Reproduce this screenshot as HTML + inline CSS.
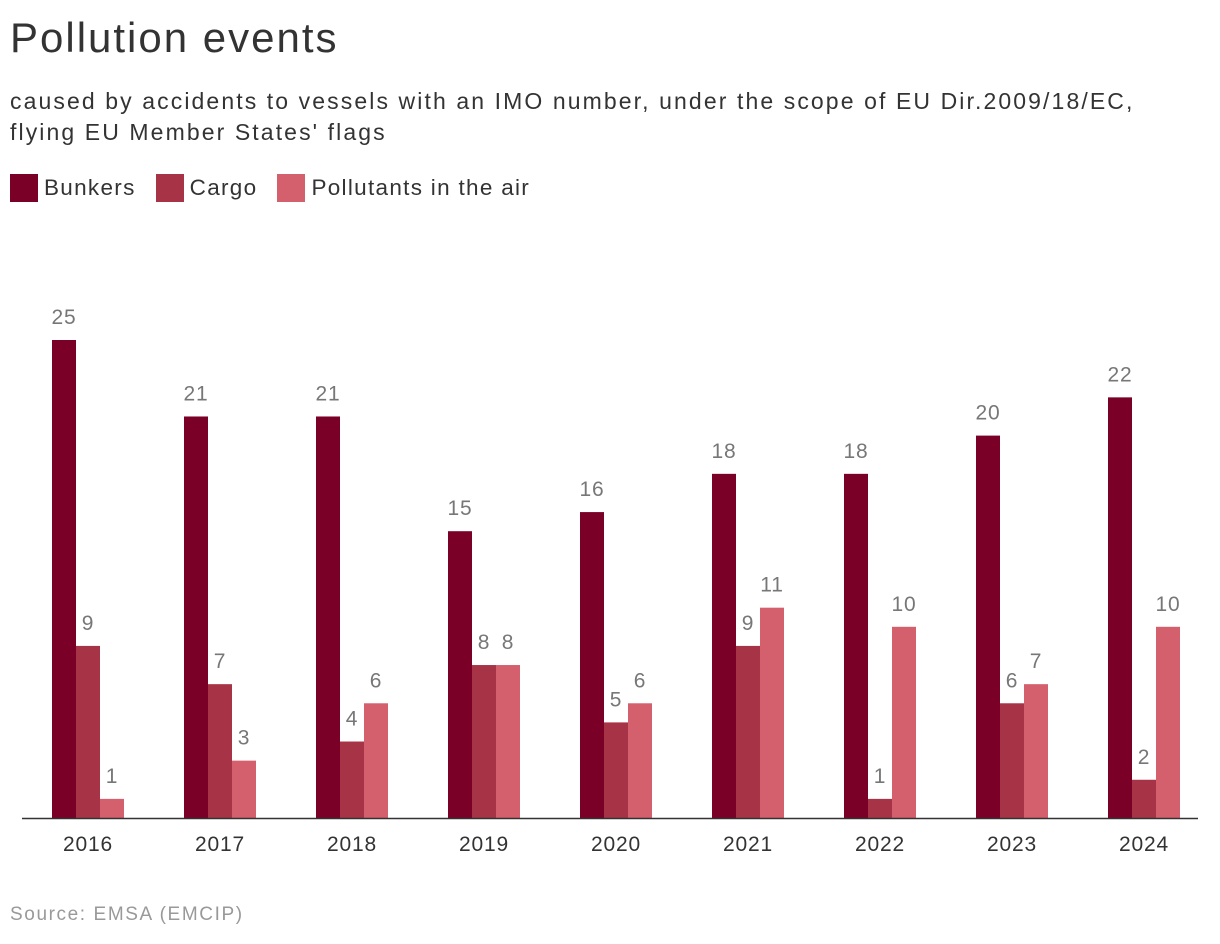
<!DOCTYPE html>
<html><head><meta charset="utf-8"><style>
body{margin:0;width:1220px;height:944px;background:#fff;font-family:"Liberation Sans",sans-serif;color:#333;position:relative;overflow:hidden}
#title{position:absolute;left:10px;top:14px;font-size:42px;letter-spacing:2px;color:#333}
#sub{position:absolute;left:10px;top:86px;font-size:23px;line-height:31px;letter-spacing:2.1px;color:#333;white-space:nowrap}
#legend{position:absolute;left:10px;top:174px;display:flex;font-size:22.5px;letter-spacing:1.3px;color:#333}
.li{display:flex;align-items:center;margin-right:20px}
.sw{width:28px;height:28px;margin-right:6px}
#src{position:absolute;left:10px;top:904px;font-size:19px;letter-spacing:1.6px;color:#999}
svg{position:absolute;left:0;top:0}
</style></head><body>
<div id="title">Pollution events</div>
<div id="sub">caused by accidents to vessels with an IMO number, under the scope of EU Dir.2009/18/EC,<br>flying EU Member States' flags</div>
<div id="legend">
<div class="li"><div class="sw" style="background:#7b0028"></div>Bunkers</div>
<div class="li"><div class="sw" style="background:#a63446"></div>Cargo</div>
<div class="li"><div class="sw" style="background:#d45f6d"></div>Pollutants in the air</div>
</div>
<svg id="chart" width="1220" height="944"></svg>
<div id="src">Source: EMSA (EMCIP)</div>
<script>
const categories=["2016","2017","2018","2019","2020","2021","2022","2023","2024"];
const bunkers=[25,21,21,15,16,18,18,20,22];
const cargo=[9,7,4,8,5,9,1,6,2];
const pollutants=[1,3,6,8,6,11,10,7,10];
const seriesNames=["bunkers","cargo","pollutants"];
const colors=["#7b0028","#a63446","#d45f6d"];
const svg=document.getElementById('chart');
const NS="http://www.w3.org/2000/svg";
const base=818,unit=19.12,x0=22,band=132,bw=24;
function y(v){return base-v*unit;}
function xc(i){return x0+band*i+band/2;}
[bunkers,cargo,pollutants].forEach((s,si)=>{
 s.forEach((v,i)=>{
  if(v===null)return;
  const x=xc(i)-36+si*bw;
  const r=document.createElementNS(NS,'rect');
  r.setAttribute('x',x);r.setAttribute('y',y(v));r.setAttribute('width',bw);r.setAttribute('height',v*unit);r.setAttribute('fill',colors[si]);
  
  
  svg.appendChild(r);
  const t=document.createElementNS(NS,'text');
  t.setAttribute('x',x+bw/2);t.setAttribute('y',y(v)-16);t.setAttribute('text-anchor','middle');
  t.setAttribute('font-size','21');t.setAttribute('letter-spacing','0.8');t.setAttribute('fill','#777');t.textContent=v;
  
  
  svg.appendChild(t);
 });
});
const ax=document.createElementNS(NS,'line');
ax.setAttribute('x1',x0);ax.setAttribute('x2',1198);ax.setAttribute('y1',base+0.5);ax.setAttribute('y2',base+0.5);ax.setAttribute('stroke','#333');ax.setAttribute('stroke-width','1.5');


svg.appendChild(ax);
categories.forEach((c,i)=>{
 const t=document.createElementNS(NS,'text');
 t.setAttribute('x',xc(i));t.setAttribute('y',851);t.setAttribute('text-anchor','middle');t.setAttribute('font-size','21');t.setAttribute('letter-spacing','0.8');t.setAttribute('fill','#333');t.textContent=c;
 
 
 svg.appendChild(t);
});
</script>
</body></html>
